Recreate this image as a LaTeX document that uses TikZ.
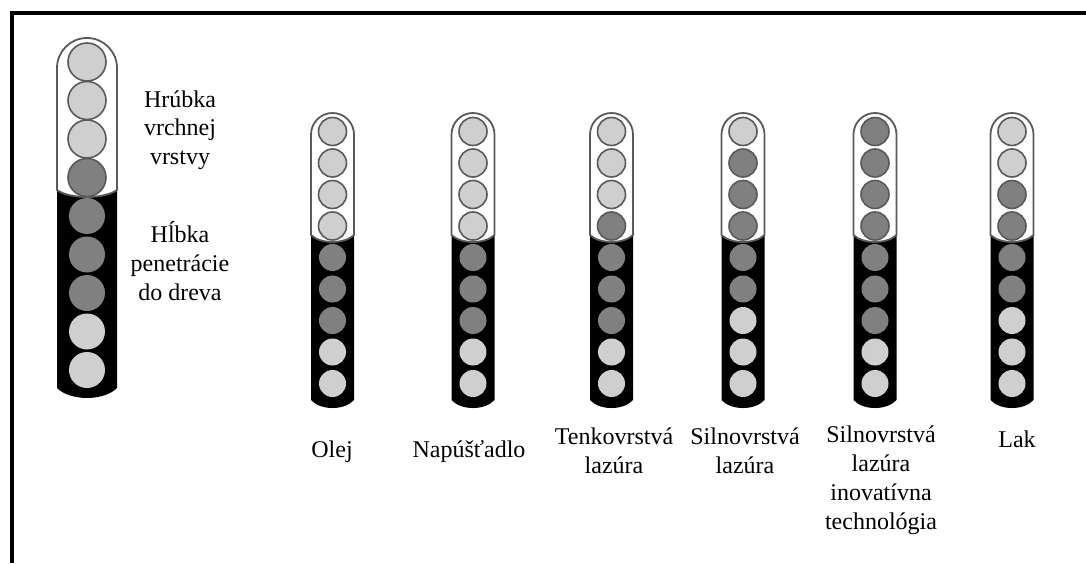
\documentclass[tikz,border=0pt]{standalone}
\usepackage{fontspec}
\setmainfont{Liberation Serif}
\definecolor{L}{HTML}{CFCFCF}
\definecolor{D}{HTML}{808080}
\definecolor{obrys}{HTML}{5A5A5A}

\begin{document}
\begin{tikzpicture}[x=0.5pt, y=0.5pt,
  ram/.style={line width=1.6pt},
  vrch/.style={fill=white, draw=obrys, line width=0.9pt},
  gulicka/.style={draw=obrys, line width=0.8pt},
  popis/.style={font=\fontsize{12}{14.5}\selectfont, align=center, anchor=base}]
  \useasboundingbox (0,0) rectangle (1086,563);
  \draw[ram] (12,0) -- (12,550) -- (1086,550);

  % velky stlpec
  \fill[black] (57,373) .. controls (70,363.7) and (104,363.7) .. (117,373) -- (117,175)
    .. controls (104,161.7) and (70,161.7) .. (57,175) -- cycle;
  \filldraw[vrch] (57,373) -- (57,495) arc[start angle=180, end angle=0, radius=30]
    -- (117,373) .. controls (104,363.7) and (70,363.7) .. cycle;
  \foreach \f [count=\i from 0] in {L,L,L,D,D,D,D,L,L} {
    \pgfmathsetmacro\y{501-38.5*\i}
    \ifnum\i<4 \path[gulicka, fill=\f] (87,\y) circle[radius=19];
    \else \fill[fill=\f] (87,\y) circle[radius=18]; \fi
  }

  % male stlpce
  \foreach \x/\farby in {332.5/{L,L,L,L,D,D,D,L,L}, 473/{L,L,L,L,D,D,D,L,L},
      611.5/{L,L,L,D,D,D,D,L,L}, 743/{L,D,D,D,D,D,L,L,L},
      875/{D,D,D,D,D,D,D,L,L}, 1012/{L,L,D,D,D,D,L,L,L}} {
    \fill[black] (\x-21.5,328) .. controls (\x-12,318.7) and (\x+12,318.7) .. (\x+21.5,328)
      -- (\x+21.5,163) .. controls (\x+12,152.3) and (\x-12,152.3) .. (\x-21.5,163) -- cycle;
    \filldraw[vrch] (\x-21.5,328) -- (\x-21.5,428.5) arc[start angle=180, end angle=0, radius=21.5]
      -- (\x+21.5,328) .. controls (\x+12,318.7) and (\x-12,318.7) .. cycle;
    \foreach \f [count=\i from 0] in \farby {
      \pgfmathsetmacro\y{431.5-31.5*\i}
      \ifnum\i<4 \path[gulicka, fill=\f] (\x,\y) circle[radius=14];
      \else \fill[fill=\f] (\x,\y) circle[radius=13.5]; \fi
    }
  }

  % popisy (base = posledny riadok)
  \node[popis] (hrubka) at (180,398) {Hrúbka\\vrchnej\\vrstvy};
  \node[popis] (hlbka) at (180,263) {Hĺbka\\penetrácie\\do dreva};
  \node[popis] (olej) at (332,106) {Olej};
  \node[popis] (napustadlo) at (469,106) {Napúšťadlo};
  \node[popis] (tenko) at (614,90) {Tenkovrstvá\\lazúra};
  \node[popis] (silno) at (745,90) {Silnovrstvá\\lazúra};
  \node[popis] (inovativna) at (881,34) {Silnovrstvá\\lazúra\\inovatívna\\technológia};
  \node[popis] (lak) at (1017,116) {Lak};
\end{tikzpicture}
\end{document}
